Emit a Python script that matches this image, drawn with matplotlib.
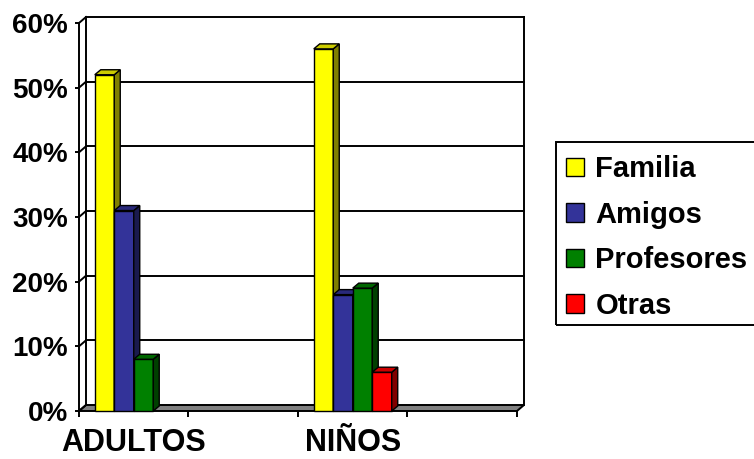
import matplotlib.pyplot as plt
from matplotlib.patches import Polygon, Rectangle, Patch
from matplotlib.ticker import FuncFormatter

plt.rcParams['font.family'] = 'Liberation Sans'
plt.rcParams['font.weight'] = 'bold'

# datos por categoría (las categorías vacías quedan sin barras)
categorias = ["ADULTOS", "", "NIÑOS", ""]
series = ["Familia", "Amigos", "Profesores", "Otras"]
familia = [52, 0, 56, 0]
amigos = [31, 0, 18, 0]
profesores = [8, 0, 19, 0]
otras = [0, 0, 6, 0]
valores = [familia, amigos, profesores, otras]
colores = ["#FFFF00", "#333399", "#008000", "#FF0000"]

W, H = 754, 459
fig = plt.figure(figsize=(W / 100, H / 100), dpi=100)
x0, x1, y0, y1 = 79, 517, 411, 23
ax = fig.add_axes([x0 / W, 1 - y0 / H, (x1 - x0) / W, (y0 - y1) / H])
ax.set_xlim(0, 4)
ax.set_ylim(0, 60)
ax.patch.set_visible(False)
for s in ["top", "right", "bottom"]:
    ax.spines[s].set_visible(False)
ax.spines["left"].set_linewidth(1.4)

# profundidad del efecto 3D (en unidades de datos)
ux = 4 / (x1 - x0)
uy = 60 / (y0 - y1)
DX, DY = 7 * ux, 6 * uy
BDX, BDY = 6 * ux, 5 * uy
LW = 1.4

# suelo gris
ax.add_patch(Polygon([(0, 0), (4, 0), (4 + DX, DY), (DX, DY)], closed=True,
                     fc="#808080", ec="black", lw=LW, clip_on=False, zorder=1))

# pared del fondo y líneas de división
for v in range(10, 61, 10):
    ax.plot([DX, 4 + DX], [v + DY, v + DY], color="black", lw=LW, clip_on=False, zorder=1)
for v in range(0, 61, 10):
    ax.plot([0, DX], [v, v + DY], color="black", lw=LW, clip_on=False, zorder=1)
ax.plot([DX, DX], [DY, 60 + DY], color="black", lw=LW, clip_on=False, zorder=1)
ax.plot([4 + DX, 4 + DX], [DY, 60 + DY], color="black", lw=LW, clip_on=False, zorder=1)


def tono(c, f):
    r, g, b = plt.matplotlib.colors.to_rgb(c)
    return (r * f, g * f, b * f)


bw = 0.178
z = 2
for j in range(len(categorias)):
    for i, vals in enumerate(valores):
        v = vals[j]
        if v == 0:
            continue
        x = j + 0.5 - 2 * bw + i * bw
        c = colores[i]
        ax.add_patch(Rectangle((x, 0), bw, v, fc=c, ec="black", lw=1.0,
                               clip_on=False, zorder=z))
        ax.add_patch(Polygon([(x + bw, 0), (x + bw + BDX, BDY), (x + bw + BDX, v + BDY), (x + bw, v)],
                             closed=True, fc=tono(c, 0.5), ec="black", lw=1.0,
                             clip_on=False, zorder=z))
        ax.add_patch(Polygon([(x, v), (x + BDX, v + BDY), (x + bw + BDX, v + BDY), (x + bw, v)],
                             closed=True, fc=tono(c, 0.8), ec="black", lw=1.0,
                             clip_on=False, zorder=z))
        z += 1

ax.set_yticks(range(0, 61, 10))
ax.yaxis.set_major_formatter(FuncFormatter(lambda v, p: f"{v:.0f}%"))
ax.tick_params(axis="y", length=3, width=LW, pad=5, labelsize=20)

ax.set_xticks(range(0, 5))
ax.set_xticklabels([])
ax.set_xticks([j + 0.5 for j in range(len(categorias))], minor=True)
ax.set_xticklabels(categorias, minor=True, fontsize=22)
ax.tick_params(axis="x", which="major", length=4.5, width=LW)
ax.tick_params(axis="x", which="minor", length=0, pad=12)

# leyenda con marco propio
handles = [Patch(fc=c, ec="black", lw=1.0) for c in colores]
fig.legend(handles, series, loc="upper left",
           bbox_to_anchor=(553 / W, 1 - 142 / H),
           fontsize=21, frameon=False,
           handlelength=0.6, handleheight=0.6, handletextpad=0.4,
           labelspacing=0.6, borderpad=0.45, borderaxespad=0)
fig.add_artist(Rectangle((556 / W, 1 - 325 / H), 220 / W, 183 / H,
                         transform=fig.transFigure, fill=False,
                         ec="black", lw=LW))

fig.savefig("out.png", dpi=100)
